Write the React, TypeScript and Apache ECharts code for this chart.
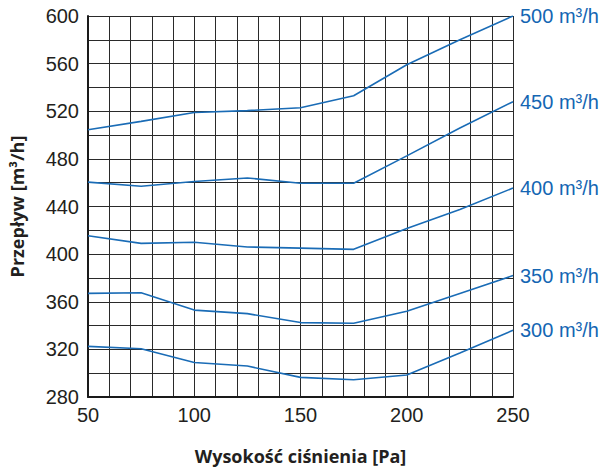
import React, { useEffect, useRef } from "react";
import * as echarts from "echarts";

const pressures = [50, 75, 100, 125, 150, 175, 200, 225, 250];
const seriesNames = ["500 m³/h", "450 m³/h", "400 m³/h", "350 m³/h", "300 m³/h"];
const flow500 = [504.5, 511.5, 519, 520.5, 523, 533, 559, 580, 600];
const flow450 = [460.5, 457, 461, 464, 459.5, 459.5, 482.5, 506, 528];
const flow400 = [415.5, 409, 410, 406, 405, 404, 421.5, 437.5, 455.5];
const flow350 = [367, 367.5, 353, 350, 342.5, 342, 352, 367, 382];
const flow300 = [322.5, 320.5, 309, 306, 296.5, 294.5, 298.5, 317, 336];
const flows = [flow500, flow450, flow400, flow350, flow300];

const LINE_COLOR = "#1a6cb6";
const LABEL_BLUE = "#1466b3";
const TEXT = "#231f20";

export default function App() {
  const ref = useRef<HTMLDivElement>(null);
  useEffect(() => {
    if (!ref.current) return;
    const chart = echarts.init(ref.current, undefined, { renderer: "svg" });
    chart.setOption({
      animation: false,
      backgroundColor: "#ffffff",
      grid: { left: 88, right: 93, top: 16, bottom: 72, containLabel: false },
      xAxis: {
        type: "value",
        min: 50,
        max: 250,
        interval: 50,
        name: "Wysokość ciśnienia [Pa]",
        nameLocation: "middle",
        nameGap: 50,
        nameTextStyle: { fontFamily: "Open Sans", fontWeight: "bold", fontSize: 18, color: TEXT },
        axisLine: { show: true, lineStyle: { color: "#1a1a1a", width: 2 } },
        axisTick: { show: false },
        axisLabel: { fontFamily: "Liberation Sans", fontSize: 20, color: TEXT, margin: 8 },
        splitLine: { show: true, lineStyle: { color: "#2a2a2a", width: 1 } },
        minorTick: { show: false, splitNumber: 5 },
        minorSplitLine: { show: true, lineStyle: { color: "#2a2a2a", width: 1 } },
      },
      yAxis: {
        type: "value",
        min: 280,
        max: 600,
        interval: 40,
        name: "Przepływ [m³/h]",
        nameLocation: "middle",
        nameRotate: 90,
        nameGap: 62,
        nameTextStyle: { fontFamily: "Open Sans", fontWeight: "bold", fontSize: 18, color: TEXT },
        axisLine: { show: true, lineStyle: { color: "#1a1a1a", width: 2 } },
        axisTick: { show: false },
        axisLabel: { fontFamily: "Liberation Sans", fontSize: 20, color: TEXT, margin: 9 },
        splitLine: { show: true, lineStyle: { color: "#2a2a2a", width: 1 } },
        minorTick: { show: false, splitNumber: 2 },
        minorSplitLine: { show: true, lineStyle: { color: "#2a2a2a", width: 1 } },
      },
      series: flows.map((vals, i) => ({
        type: "line",
        name: seriesNames[i],
        data: pressures.map((p, j) => [p, vals[j]]),
        symbol: "none",
        lineStyle: { color: LINE_COLOR, width: 1.6 },
        itemStyle: { color: LINE_COLOR },
        endLabel: {
          show: true,
          formatter: seriesNames[i],
          fontFamily: "Liberation Sans",
          fontSize: 20,
          color: LABEL_BLUE,
          distance: 7,
        },
      })),
    });
    return () => chart.dispose();
  }, []);
  return (
    <div
      ref={ref}
      style={{ position: "fixed", left: 0, top: 0, width: 606, height: 470, background: "#fff" }}
    />
  );
}
